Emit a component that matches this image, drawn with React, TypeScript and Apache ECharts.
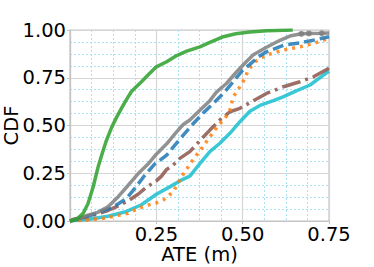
import React, { useEffect, useRef } from "react";
import * as echarts from "echarts";

const xTicks = [0, 0.25, 0.5, 0.75];
const yTicks = [0, 0.25, 0.5, 0.75, 1.0];

const greenData: number[][] = [[0,0],[0.02,0.01],[0.038,0.04],[0.052,0.09],[0.067,0.178],[0.081,0.28],[0.091,0.34],[0.105,0.42],[0.12,0.488],[0.134,0.54],[0.149,0.59],[0.163,0.634],[0.178,0.678],[0.192,0.703],[0.207,0.729],[0.226,0.764],[0.25,0.807],[0.28,0.834],[0.309,0.866],[0.338,0.889],[0.376,0.912],[0.405,0.935],[0.444,0.965],[0.48,0.98],[0.521,0.99],[0.57,0.996],[0.645,1.0]];
const grayData: number[][] = [[0,0],[0.02,0.01],[0.052,0.031],[0.08,0.045],[0.11,0.074],[0.139,0.126],[0.168,0.186],[0.197,0.247],[0.226,0.298],[0.25,0.35],[0.28,0.404],[0.308,0.465],[0.328,0.505],[0.347,0.529],[0.376,0.58],[0.405,0.63],[0.424,0.675],[0.453,0.72],[0.482,0.78],[0.511,0.835],[0.531,0.87],[0.569,0.91],[0.608,0.946],[0.64,0.97],[0.67,0.98],[0.692,0.982],[0.729,0.983],[0.75,0.984]];
const grayMarkerX = [0.67, 0.692, 0.729];
const blueData: number[][] = [[0,0],[0.03,0.015],[0.06,0.03],[0.087,0.049],[0.12,0.07],[0.14,0.09],[0.163,0.117],[0.187,0.169],[0.216,0.238],[0.245,0.298],[0.28,0.345],[0.305,0.4],[0.333,0.46],[0.352,0.5],[0.385,0.564],[0.415,0.616],[0.445,0.67],[0.473,0.73],[0.5,0.79],[0.521,0.82],[0.545,0.86],[0.569,0.886],[0.618,0.92],[0.666,0.933],[0.714,0.95],[0.75,0.965]];
const orangeData: number[][] = [[0,0],[0.05,0.005],[0.1,0.015],[0.14,0.03],[0.168,0.04],[0.197,0.066],[0.226,0.083],[0.25,0.095],[0.27,0.11],[0.299,0.153],[0.323,0.232],[0.352,0.31],[0.381,0.38],[0.405,0.44],[0.429,0.5],[0.449,0.538],[0.463,0.58],[0.473,0.65],[0.492,0.703],[0.506,0.745],[0.516,0.79],[0.536,0.834],[0.569,0.869],[0.618,0.895],[0.666,0.912],[0.705,0.93],[0.75,0.956]];
const brownData: number[][] = [[0,0],[0.01,0.009],[0.052,0.022],[0.068,0.031],[0.11,0.055],[0.135,0.075],[0.168,0.105],[0.197,0.14],[0.22,0.175],[0.25,0.21],[0.265,0.235],[0.28,0.27],[0.299,0.293],[0.318,0.328],[0.347,0.363],[0.386,0.44],[0.405,0.476],[0.434,0.529],[0.463,0.572],[0.492,0.59],[0.531,0.63],[0.569,0.668],[0.618,0.703],[0.666,0.729],[0.705,0.755],[0.75,0.8]];
const cyanData: number[][] = [[0,0],[0.05,0.008],[0.11,0.025],[0.164,0.05],[0.207,0.085],[0.25,0.14],[0.29,0.18],[0.318,0.21],[0.347,0.235],[0.376,0.3],[0.405,0.363],[0.434,0.407],[0.463,0.459],[0.492,0.52],[0.521,0.575],[0.55,0.605],[0.589,0.63],[0.617,0.65],[0.647,0.675],[0.695,0.712],[0.75,0.785]];

const FONT = "DejaVu Sans";
const FS = 19.5;

export default function App() {
  const ref = useRef<HTMLDivElement>(null);
  useEffect(() => {
    document.body.style.margin = "0";
    const chart = echarts.init(ref.current!, null, { renderer: "svg" });
    const lineSeries = (name: string, data: any[], color: string, type: any, z: number) => ({
      name,
      type: "line",
      data,
      symbol: "none",
      showSymbol: true,
      z,
      lineStyle: { color, width: 3.5, type, opacity: 0.85 },
      itemStyle: { color, opacity: 0.85 },
    });
    const grayItems = grayData.map((p) =>
      grayMarkerX.includes(p[0])
        ? { value: p, symbol: "circle", symbolSize: 6 }
        : { value: p }
    );
    chart.setOption({
      animation: false,
      grid: {
        left: 70, right: 45, top: 30, bottom: 46,
        containLabel: false, outerBoundsMode: "none",
        show: true, borderColor: "#c4c4c4", borderWidth: 1.2,
      },
      xAxis: {
        type: "value",
        min: xTicks[0],
        max: xTicks[xTicks.length - 1],
        interval: 0.25,
        name: "ATE (m)",
        nameLocation: "middle",
        nameGap: 23,
        nameMoveOverlap: false,
        nameTextStyle: { fontFamily: FONT, fontSize: FS, color: "#000" },
        axisLine: { show: true, lineStyle: { color: "#c4c4c4", width: 1.2 } },
        axisTick: { show: true, length: 3, lineStyle: { color: "#c4c4c4" } },
        axisLabel: {
          fontFamily: FONT, fontSize: FS, color: "#000", margin: 3,
          formatter: (v: number) => (v === 0 ? "" : v.toFixed(2)),
        },
        splitLine: { show: true, lineStyle: { color: "#d6d6d6", width: 1.2 } },
        minorTick: { show: false, splitNumber: 4 },
        minorSplitLine: { show: true, lineStyle: { color: "#a9e3f3", width: 1, type: [2, 2] } },
      },
      yAxis: {
        type: "value",
        min: yTicks[0],
        max: yTicks[yTicks.length - 1],
        interval: 0.25,
        name: "CDF",
        nameLocation: "middle",
        nameGap: 49,
        nameMoveOverlap: false,
        nameTextStyle: { fontFamily: FONT, fontSize: FS, color: "#000" },
        axisLine: { show: true, lineStyle: { color: "#c4c4c4", width: 1.2 } },
        axisTick: { show: true, length: 3, lineStyle: { color: "#c4c4c4" } },
        axisLabel: {
          fontFamily: FONT, fontSize: FS, color: "#000", margin: 4,
          formatter: (v: number) => v.toFixed(2),
        },
        splitLine: { show: true, lineStyle: { color: "#d6d6d6", width: 1.2 } },
        minorTick: { show: false, splitNumber: 4 },
        minorSplitLine: { show: true, lineStyle: { color: "#a9e3f3", width: 1, type: [2, 2] } },
      },
      series: [
        lineSeries("cyan", cyanData, "#17becf", "solid", 2),
        lineSeries("brown", brownData, "#8c564b", [19, 5, 3, 5], 3),
        lineSeries("orange", orangeData, "#ff7f0e", [3, 5], 4),
        lineSeries("blue", blueData, "#1f77b4", [11, 5], 5),
        lineSeries("gray", grayItems, "#7f7f7f", "solid", 6),
        lineSeries("green", greenData, "#2ca02c", "solid", 7),
      ],
    });
    return () => chart.dispose();
  }, []);
  return <div ref={ref} style={{ width: 374, height: 267 }} />;
}
